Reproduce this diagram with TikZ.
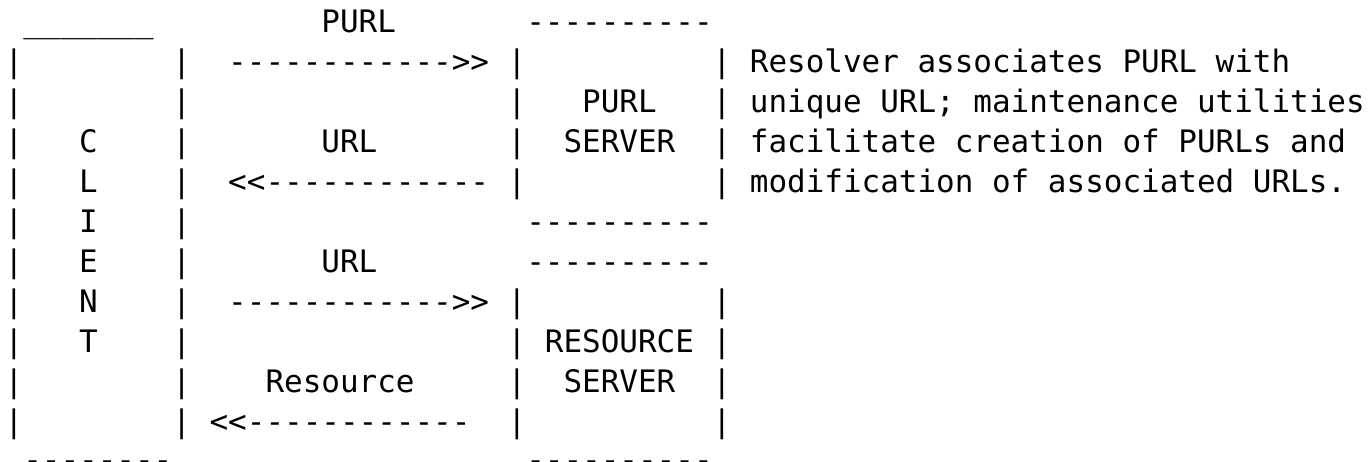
\documentclass[tikz,border=0pt]{standalone}
\usepackage{fontspec}
\setmonofont{DejaVu Sans Mono}
\tikzset{
  t/.style={anchor=base west, inner sep=0pt, outer sep=0pt,
            font=\ttfamily\fontsize{30.95}{40}\selectfont, text=black},
}
\newcommand\T[4]{\node[t] (#1) at (#2,#3) {#4};}
\begin{document}
\begin{tikzpicture}
\path[use as bounding box, fill=white] (0pt,0pt) rectangle (1369pt,-461pt);
\begin{scope}[x=18.63pt, y=-40pt, shift={(4.68pt,-32.5pt)}]
% row 0
\T{topbar}{1}{0}{\_\_\_\_\_\_\_}
\T{lblpurl}{17}{0}{PURL}
\T{pstop}{28}{0}{----------}
% row 1
\T{c1a}{0}{1}{|}\T{c1b}{9}{1}{|}
\T{arr1}{12}{1}{------------>>}
\T{p1a}{27}{1}{|}\T{p1b}{38}{1}{|}
\T{d1}{40}{1}{Resolver associates PURL with}
% row 2
\T{c2a}{0}{2}{|}\T{c2b}{9}{2}{|}
\T{p2a}{27}{2}{|}\T{psname}{31}{2}{PURL}\T{p2b}{38}{2}{|}
\T{d2}{40}{2}{unique URL; maintenance utilities}
% row 3
\T{c3a}{0}{3}{|}\T{cC}{4}{3}{C}\T{c3b}{9}{3}{|}
\T{lblurl1}{17}{3}{URL}
\T{p3a}{27}{3}{|}\T{psname2}{30}{3}{SERVER}\T{p3b}{38}{3}{|}
\T{d3}{40}{3}{facilitate creation of PURLs and}
% row 4
\T{c4a}{0}{4}{|}\T{cL}{4}{4}{L}\T{c4b}{9}{4}{|}
\T{arr2}{12}{4}{<<------------}
\T{p4a}{27}{4}{|}\T{p4b}{38}{4}{|}
\T{d4}{40}{4}{modification of associated URLs.}
% row 5
\T{c5a}{0}{5}{|}\T{cI}{4}{5}{I}\T{c5b}{9}{5}{|}
\T{psbot}{28}{5}{----------}
% row 6
\T{c6a}{0}{6}{|}\T{cE}{4}{6}{E}\T{c6b}{9}{6}{|}
\T{lblurl2}{17}{6}{URL}
\T{rstop}{28}{6}{----------}
% row 7
\T{c7a}{0}{7}{|}\T{cN}{4}{7}{N}\T{c7b}{9}{7}{|}
\T{arr3}{12}{7}{------------>>}
\T{r7a}{27}{7}{|}\T{r7b}{38}{7}{|}
% row 8
\T{c8a}{0}{8}{|}\T{cT}{4}{8}{T}\T{c8b}{9}{8}{|}
\T{r8a}{27}{8}{|}\T{rsname}{29}{8}{RESOURCE}\T{r8b}{38}{8}{|}
% row 9
\T{c9a}{0}{9}{|}\T{c9b}{9}{9}{|}
\T{lblres}{14}{9}{Resource}
\T{r9a}{27}{9}{|}\T{rsname2}{30}{9}{SERVER}\T{r9b}{38}{9}{|}
% row 10
\T{c10a}{0}{10}{|}\T{c10b}{9}{10}{|}
\T{arr4}{11}{10}{<<------------}
\T{r10a}{27}{10}{|}\T{r10b}{38}{10}{|}
% row 11
\T{cbot}{1}{10.95}{--------}
\T{rsbot}{28}{10.95}{----------}
\end{scope}
\end{tikzpicture}
\end{document}
